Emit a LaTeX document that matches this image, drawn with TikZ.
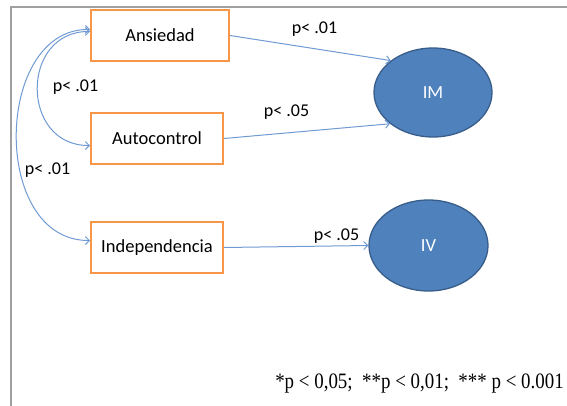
\documentclass[tikz,border=0pt]{standalone}
\usepackage{fontspec}
\setmainfont{Carlito}
\newfontfamily\notefont{Liberation Serif}
\usetikzlibrary{shapes.geometric,arrows.meta}

\definecolor{boxorange}{HTML}{F79646}
\definecolor{ellfill}{HTML}{4F81BD}
\definecolor{elldraw}{HTML}{385D8A}
\definecolor{linkblue}{HTML}{6F9AD3}
\definecolor{framegray}{HTML}{A0A0A0}

\begin{document}
\begin{tikzpicture}[x=1pt, y=-1pt,
	var/.style = {rectangle, draw=boxorange, line width=2pt, fill=white,
		minimum height=51pt, font=\fontsize{18.5}{21}\selectfont, inner sep=0pt},
	fac/.style = {ellipse, draw=elldraw, line width=1.3pt, fill=ellfill,
		text=white, inner sep=0pt, font=\fontsize{18.5}{21}\selectfont},
	link/.style = {draw=linkblue, line width=1pt, -{Straight Barb[length=4pt,width=8pt]}},
	plab/.style = {inner sep=0pt, font=\fontsize{18}{21}\selectfont}]
	\useasboundingbox (0,0) rectangle (567,406);
	\draw[framegray, line width=1.5pt] (11,406) -- (11,7) -- (567,7);

	\node[var, minimum width=138pt] (ans) at(160,35.5){Ansiedad};
	\node[var, minimum width=132pt] (auto) at(157,138.5){Autocontrol};
	\node[var, minimum width=132pt] (indep) at(157,247.5){Independencia};

	\node[fac, minimum width=118pt, minimum height=89pt] (im) at(433,92.5){IM};
	\node[fac, minimum width=119pt, minimum height=91pt] (iv) at(428.5,245.5){IV};

	% paths to the factors
	\draw[link] (ans.east) -- (im.north west);
	\draw[link] (auto.east) -- (im.216);
	\draw[link] (indep.east) -- (iv.west);

	% correlations
	\coordinate (a1) at ([yshift=4pt]ans.west);
	\coordinate (a2) at ([yshift=6pt]ans.west);
	\coordinate (c1) at ([yshift=-7pt]auto.west);
	\coordinate (d1) at ([yshift=7pt]indep.west);
	\draw[link, {Straight Barb[length=4pt,width=8pt]}-{Straight Barb[length=4pt,width=8pt]}]
		(a1) .. controls (20,31) and (20,146) .. (c1);
	\draw[link, {Straight Barb[length=4pt,width=8pt]}-{Straight Barb[length=4pt,width=8pt]}]
		(a2) .. controls (-6,28) and (-10,241) .. (d1);

	\node[plab] (p1) at(314.5,29){p< .01};
	\node[plab] (p2) at(286.5,112){p< .05};
	\node[plab] (p3) at(336.5,236){p< .05};
	\node[plab] (p4) at(75.5,87){p< .01};
	\node[plab] (p5) at(47.5,170){p< .01};

	\node[anchor=base, inner sep=0pt, font=\notefont\fontsize{22}{24}\selectfont, xscale=0.86] (note) at(419.5,388)
		{*p < 0,05;\ \ **p < 0,01;\ \ *** p < 0.001};
\end{tikzpicture}
\end{document}
